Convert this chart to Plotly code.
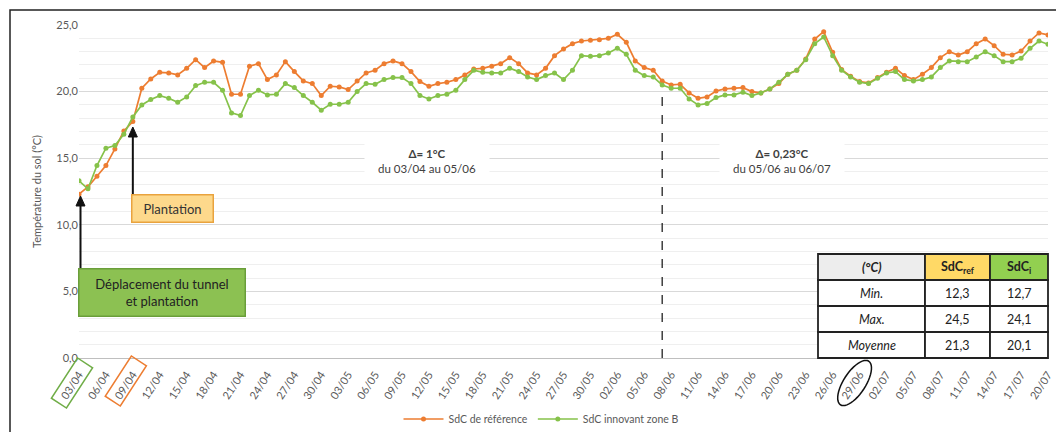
import math
import pandas as pd
import plotly.graph_objects as go

# ---------------- data ----------------
dates = [d.strftime("%d/%m") for d in pd.date_range("2021-04-03", "2021-07-20", freq="D")]

sdc_ref = [12.3, 12.85, 13.65, 14.45, 15.7, 17.05, 17.75, 20.25, 20.95, 21.45,
           21.4, 21.25, 21.75, 22.4, 21.8, 22.3, 22.2, 19.8, 19.8, 21.9,
           22.1, 20.9, 21.25, 22.25, 21.5, 20.8, 20.6, 19.7, 20.4, 20.35,
           20.15, 20.8, 21.4, 21.6, 22.1, 22.3, 22.1, 21.5, 20.75, 20.4,
           20.6, 20.7, 20.9, 21.25, 21.7, 21.75, 21.9, 22.1, 22.55, 22.1,
           21.4, 21.25, 21.75, 22.7, 23.2, 23.6, 23.8, 23.85, 23.9, 24.0,
           24.3, 23.7, 22.3, 21.8, 21.6, 20.8, 20.5, 20.55, 19.9, 19.5,
           19.6, 20.05, 20.2, 20.25, 20.3, 20.0, 19.9, 20.2, 20.6, 21.3,
           21.6, 22.45, 23.95, 24.5, 22.95, 21.65, 21.15, 20.75, 20.65, 21.05,
           21.45, 21.75, 21.2, 20.9, 21.3, 21.8, 22.55, 23.0, 22.75, 23.0,
           23.6, 23.95, 23.45, 22.8, 22.75, 23.05, 23.8, 24.4, 24.25]

sdc_innov = [13.3, 12.7, 14.45, 15.75, 15.95, 16.8, 18.1, 19.0, 19.4, 19.7,
             19.5, 19.2, 19.6, 20.45, 20.7, 20.7, 20.1, 18.4, 18.2, 19.7,
             20.1, 19.75, 19.8, 20.6, 20.3, 19.7, 19.2, 18.6, 19.05, 19.05,
             19.2, 20.0, 20.6, 20.55, 20.9, 21.05, 21.05, 20.6, 19.7, 19.45,
             19.7, 19.8, 20.1, 20.9, 21.6, 21.45, 21.4, 21.4, 21.75, 21.5,
             21.1, 20.9, 21.2, 21.4, 20.9, 21.6, 22.7, 22.65, 22.7, 22.9,
             23.25, 22.8, 21.6, 21.2, 21.1, 20.5, 20.25, 20.25, 19.45, 19.0,
             19.1, 19.55, 19.75, 19.75, 19.95, 19.7, 19.9, 20.2, 20.7, 21.3,
             21.6, 22.4, 23.6, 24.1, 22.7, 21.6, 21.1, 20.7, 20.6, 21.0,
             21.4, 21.5, 20.9, 20.8, 20.9, 21.1, 21.8, 22.3, 22.25, 22.25,
             22.6, 23.0, 22.7, 22.25, 22.25, 22.5, 23.25, 23.8, 23.55]

tick_labels = ["03/04", "06/04", "09/04", "12/04", "15/04", "18/04", "21/04", "24/04",
               "27/04", "30/04", "03/05", "06/05", "09/05", "12/05", "15/05", "18/05",
               "21/05", "24/05", "27/05", "30/05", "02/06", "05/06", "08/06", "11/06",
               "14/06", "17/06", "20/06", "23/06", "26/06", "29/06", "02/07", "05/07",
               "08/07", "11/07", "14/07", "17/07", "20/07"]

series_names = ["SdC de référence", "SdC innovant zone B"]
series_colors = ["#ED7D31", "#86C24A"]

table_header = ["<b><i>(°C)</i></b>", "<b>SdC<sub>ref</sub></b>", "<b>SdC<sub>i</sub></b>"]
table_header_fill = ["#EDEDED", "#FFD966", "#92D050"]
table_rows = ["<i>Min.</i>", "<i>Max.</i>", "<i>Moyenne</i>"]
table_ref = ["12,3", "24,5", "21,3"]
table_innov = ["12,7", "24,1", "20,1"]

deltas = [("Δ= 1°C", "du 03/04 au 05/06"), ("Δ= 0,23°C", "du 05/06 au 06/07")]

# ---------------- figure ----------------
L, R, T, B = 79, 8, 25, 74
WIDTH, HEIGHT = 1056, 432
PW = WIDTH - L - R
PH = HEIGHT - T - B
FONT = "Lato, sans-serif"
ANG = 57

def pp(x, y):
    """pixel -> paper"""
    return ((x - L) / PW, (HEIGHT - B - y) / PH)

xidx = list(range(len(dates)))
tickvals = [dates.index(t) for t in tick_labels]

fig = go.Figure()
for vals, name, col in zip([sdc_ref, sdc_innov], series_names, series_colors):
    fig.add_trace(go.Scatter(x=xidx, y=vals, name=name, mode="lines+markers",
                             line=dict(color=col, width=1.7),
                             marker=dict(color=col, size=5)))

shapes = []
annotations = []

# outer border
shapes.append(dict(type="rect", xref="paper", yref="paper",
                   x0=pp(10, 0)[0], x1=pp(1062, 0)[0], y0=pp(0, 445)[1], y1=pp(0, 10)[1],
                   line=dict(color="#222222", width=1.5), layer="below"))
# dashed separator
shapes.append(dict(type="line", xref="x", yref="y", x0=65, x1=65, y0=0, y1=20.0,
                   line=dict(color="#222222", width=1.3, dash="dash")))

def _axes():
    u = (math.cos(math.radians(ANG)), -math.sin(math.radians(ANG)))
    v = (-u[1], u[0])
    return u, v

def poly(pts_px):
    pts = [pp(x, y) for x, y in pts_px]
    return "M " + " L ".join(f"{x:.5f},{y:.5f}" for x, y in pts) + " Z"

def rot_rect(cx, cy, hl, hw):
    u, v = _axes()
    return poly([(cx + a * hl * u[0] + b * hw * v[0], cy + a * hl * u[1] + b * hw * v[1])
                 for a, b in [(1, 1), (1, -1), (-1, -1), (-1, 1)]])

def rot_ellipse(cx, cy, a, b):
    u, v = _axes()
    pts = []
    for k in range(48):
        t = 2 * math.pi * k / 48
        pts.append((cx + a * math.cos(t) * u[0] + b * math.sin(t) * v[0],
                    cy + a * math.cos(t) * u[1] + b * math.sin(t) * v[1]))
    return poly(pts)

def xpx(i):
    return L + i * PW / (len(dates) - 1)

shapes.append(dict(type="path", xref="paper", yref="paper",
                   path=rot_rect(xpx(dates.index("03/04")) - 7, 383, 24, 9),
                   line=dict(color="#70AD47", width=1.5)))
shapes.append(dict(type="path", xref="paper", yref="paper",
                   path=rot_rect(xpx(dates.index("09/04")) - 7, 381, 24, 9),
                   line=dict(color="#ED7D31", width=1.5)))
shapes.append(dict(type="path", xref="paper", yref="paper",
                   path=rot_ellipse(xpx(dates.index("29/06")) - 5, 383, 26, 11),
                   line=dict(color="#111111", width=1.5)))

# arrows (shaft + head)
for xpix, y_from, y_tip in [(80.5, 269, 196), (xpx(dates.index("09/04")), 195, 127)]:
    x0p, y0p = pp(xpix, y_from)
    x1p, y1p = pp(xpix, y_tip + 8)
    shapes.append(dict(type="line", xref="paper", yref="paper", x0=x0p, x1=x1p, y0=y0p, y1=y1p,
                       line=dict(color="#111111", width=2)))
    shapes.append(dict(type="path", xref="paper", yref="paper",
                       path=poly([(xpix, y_tip), (xpix - 4.5, y_tip + 10), (xpix + 4.5, y_tip + 10)]),
                       fillcolor="#111111", line=dict(color="#111111", width=1)))

# ---- table drawn with shapes + text ----
col_edges = [818, 925, 990, 1048]
row_edges = [254, 280, 306, 332, 358]
columns = [[table_header[0]] + table_rows,
           [table_header[1]] + table_ref,
           [table_header[2]] + table_innov]
for c in range(3):
    for r in range(4):
        x0, y1 = pp(col_edges[c], row_edges[r])
        x1, y0 = pp(col_edges[c + 1], row_edges[r + 1])
        fill = table_header_fill[c] if r == 0 else "white"
        shapes.append(dict(type="rect", xref="paper", yref="paper", x0=x0, x1=x1, y0=y0, y1=y1,
                           fillcolor=fill, line=dict(color="#222222", width=1.8)))
        annotations.append(dict(x=(x0 + x1) / 2, y=(y0 + y1) / 2, xref="paper", yref="paper",
                                xanchor="center", yanchor="middle", showarrow=False,
                                text=columns[c][r],
                                font=dict(family=FONT, size=12.5, color="#222222")))

# labelled boxes
annotations.append(dict(x=pp(172.5, 0)[0], y=pp(0, 208.5)[1], xref="paper", yref="paper",
                        xanchor="center", yanchor="middle",
                        text="Plantation", showarrow=False, width=78, height=24,
                        bgcolor="#FDD98C", bordercolor="#E9A33E", borderwidth=1.5,
                        font=dict(family=FONT, size=13, color="#333333")))
annotations.append(dict(x=pp(162, 0)[0], y=pp(0, 292.5)[1], xref="paper", yref="paper",
                        xanchor="center", yanchor="middle",
                        text="Déplacement du tunnel<br>et plantation", showarrow=False,
                        width=163, height=44, bgcolor="#8CC152", bordercolor="#6A9E3A",
                        borderwidth=1.5,
                        font=dict(family=FONT, size=13, color="#222222")))
# delta boxes
for (title, sub), cxp in zip(deltas, [427, 782]):
    annotations.append(dict(x=pp(cxp, 0)[0], y=pp(0, 161)[1], xref="paper", yref="paper",
                            xanchor="center", yanchor="middle",
                            text=f"<b>{title}</b><br>{sub}", showarrow=False,
                            width=122, height=32, bgcolor="white",
                            font=dict(family=FONT, size=11.5, color="#404040")))

fig.update_layout(
    width=WIDTH, height=HEIGHT,
    margin=dict(l=L, r=R, t=T, b=B, autoexpand=False),
    paper_bgcolor="white", plot_bgcolor="white",
    separators=", ",
    font=dict(family=FONT, size=11, color="#595959"),
    showlegend=True,
    legend=dict(orientation="h", x=pp(541, 0)[0], xanchor="center", y=pp(0, 419)[1],
                yanchor="middle", font=dict(size=10.5, color="#595959"),
                itemwidth=40, bgcolor="rgba(0,0,0,0)"),
    xaxis=dict(range=[0, len(dates) - 1], tickmode="array", tickvals=tickvals,
               ticktext=tick_labels, tickangle=-ANG, showgrid=False, zeroline=False,
               showline=True, linecolor="#BFBFBF", linewidth=1, ticks="",
               ticklabelstandoff=5,
               automargin=False, tickfont=dict(size=11, color="#595959")),
    yaxis=dict(range=[0, 25], dtick=5, tickformat=".1f", showgrid=True,
               gridcolor="#D9D9D9", zeroline=False, ticks="", automargin=False,
               minor=dict(dtick=1, showgrid=True, gridcolor="#EFEFEF"),
               title=dict(text="Température du sol (°C)", standoff=12,
                          font=dict(size=11, color="#595959")),
               tickfont=dict(size=11, color="#595959")),
    shapes=shapes, annotations=annotations,
)

fig.write_html("out.html", config={"displayModeBar": False},
               post_script="document.body.style.margin='0';document.body.style.overflow='hidden';")
